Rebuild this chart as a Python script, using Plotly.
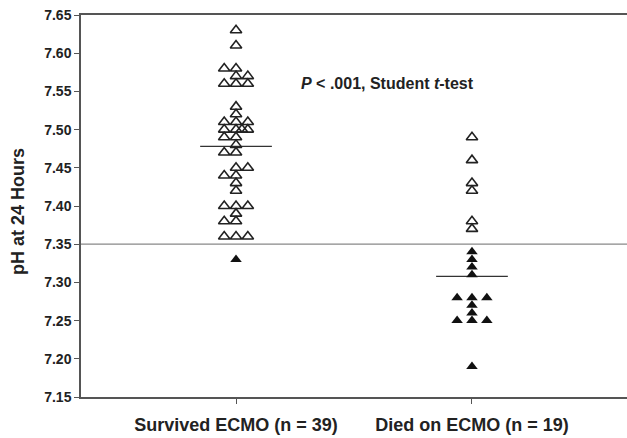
import plotly.graph_objects as go

categories = ["Survived ECMO (n = 39)", "Died on ECMO (n = 19)"]

# Survived group: open triangles (value, column slot)
surv_open_vals = [7.63, 7.61, 7.58, 7.58, 7.57, 7.57, 7.56, 7.56, 7.56,
                  7.53, 7.52, 7.51, 7.51, 7.51, 7.50, 7.50, 7.50, 7.50,
                  7.49, 7.49, 7.48, 7.47, 7.47, 7.45, 7.45, 7.44, 7.44,
                  7.43, 7.42, 7.40, 7.40, 7.40, 7.39, 7.38, 7.38,
                  7.36, 7.36, 7.36]
surv_open_cols = [0, 0, -1, 0, 0, 1, -1, 0, 1,
                  0, 0, -1, 0, 1, -1, 0, 0.5, 1,
                  -1, 0, 0, -1, 0, 0, 1, -1, 0,
                  0, 0, -1, 0, 1, 0, -1, 0,
                  -1, 0, 1]
surv_filled_vals = [7.33]
surv_filled_cols = [0]

# Died group
died_open_vals = [7.49, 7.46, 7.43, 7.42, 7.38, 7.37]
died_open_cols = [0, 0, 0, 0, 0, 0]
died_filled_vals = [7.34, 7.33, 7.32, 7.31, 7.28, 7.28, 7.28, 7.27, 7.26,
                    7.25, 7.25, 7.25, 7.19]
died_filled_cols = [0, 0, 0, 0, -1, 0, 1, 0, 0, -1, 0, 1, 0]

center_lines = [7.478, 7.308]
reference_ph = 7.35
y_ticks = [7.15, 7.20, 7.25, 7.30, 7.35, 7.40, 7.45, 7.50, 7.55, 7.60, 7.65]

step = [0.05, 0.063]   # column spacing per group (x units)
half_w = 0.152

def xs(group, cols):
    return [group + 1 + c * step[group] for c in cols]

fig = go.Figure()
tri_open = dict(symbol="triangle-up-open", size=10, color="#222222", line=dict(width=1.6, color="#222222"))
tri_fill = dict(symbol="triangle-up", size=10, color="#111111", line=dict(width=0))

fig.add_trace(go.Scatter(x=xs(0, surv_open_cols), y=surv_open_vals, mode="markers", marker=tri_open, showlegend=False))
fig.add_trace(go.Scatter(x=xs(0, surv_filled_cols), y=surv_filled_vals, mode="markers", marker=tri_fill, showlegend=False))
fig.add_trace(go.Scatter(x=xs(1, died_open_cols), y=died_open_vals, mode="markers", marker=tri_open, showlegend=False))
fig.add_trace(go.Scatter(x=xs(1, died_filled_cols), y=died_filled_vals, mode="markers", marker=tri_fill, showlegend=False))

for i, v in enumerate(center_lines):
    fig.add_shape(type="line", x0=i + 1 - half_w, x1=i + 1 + half_w, y0=v, y1=v,
                  line=dict(color="#333333", width=1.3), layer="below")

fig.add_shape(type="line", xref="paper", x0=0, x1=1, y0=reference_ph, y1=reference_ph,
              line=dict(color="#888888", width=1.3), layer="below")

fig.add_annotation(x=1.64, y=7.561, xref="x", yref="y",
                   text="<b><i>P</i> &lt; .001, Student <i>t</i>-test</b>",
                   showarrow=False, font=dict(size=16, color="#222222"))

fig.add_annotation(x=-0.1154, y=0.487, xref="paper", yref="paper", textangle=-90,
                   text="<b>pH at 24 Hours</b>", showarrow=False,
                   xanchor="center", yanchor="middle",
                   font=dict(size=18, color="#222222"))

fig.update_xaxes(range=[0.343, 2.657], tickmode="array", tickvals=[1, 2],
                 ticktext=[f"<b>{c}</b>" for c in categories],
                 showline=True, linecolor="#555555", linewidth=1.5, mirror=True,
                 ticks="outside", ticklen=5, tickcolor="#555555", showgrid=False, zeroline=False,
                 ticklabelstandoff=6,
                 tickfont=dict(size=18, color="#222222"))
fig.update_yaxes(range=[7.15, 7.65], tickmode="array", tickvals=y_ticks,
                 ticktext=[f"<b>{t:.2f}</b>" for t in y_ticks],
                 showline=True, linecolor="#555555", linewidth=1.5,
                 ticks="outside", ticklen=5, tickcolor="#555555", showgrid=False, zeroline=False,
                 tickfont=dict(size=14, color="#222222"))

fig.update_layout(width=627, height=438, margin=dict(l=81, r=0, t=15, b=41),
                  plot_bgcolor="white", paper_bgcolor="white",
                  font=dict(family="Liberation Sans, Arial, sans-serif", color="#222222"))

fig.write_html("out.html")
